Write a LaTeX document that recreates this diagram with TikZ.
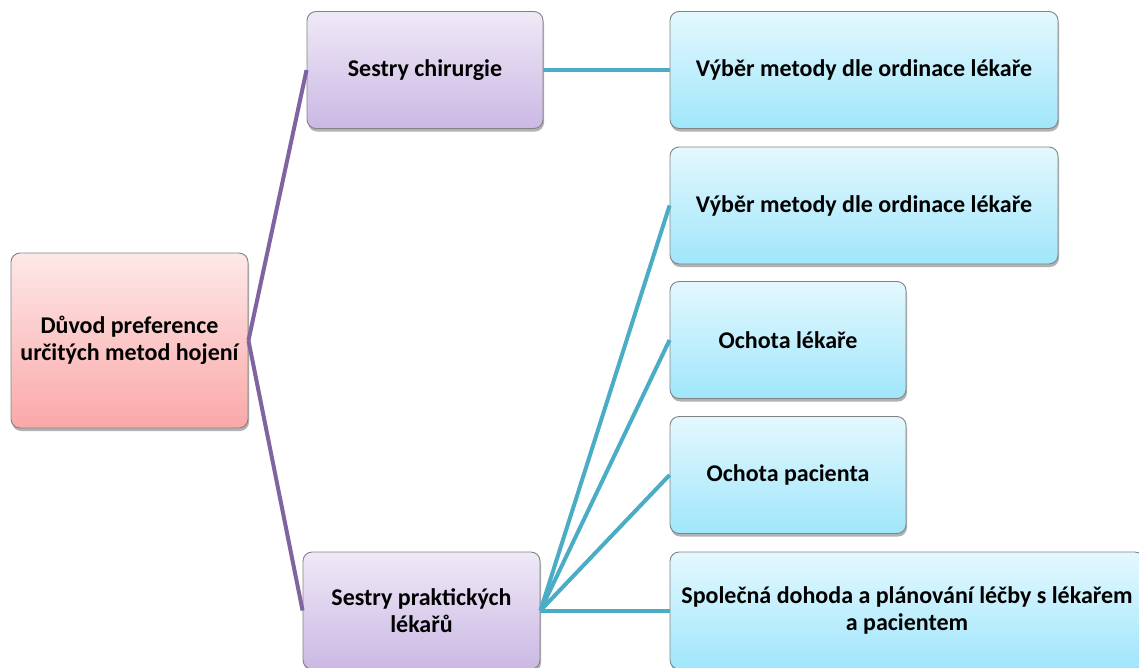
\documentclass[tikz,border=0pt]{standalone}
\usepackage{fontspec}
\setmainfont{Carlito}
\usetikzlibrary{shadows}
\definecolor{boxedge}{RGB}{130,130,130}
\definecolor{pinktop}{RGB}{254,232,232}
\definecolor{pinkbot}{RGB}{250,168,168}
\definecolor{violtop}{RGB}{239,233,247}
\definecolor{violbot}{RGB}{203,184,228}
\definecolor{cyantop}{RGB}{228,248,254}
\definecolor{cyanbot}{RGB}{160,230,251}
\definecolor{violline}{RGB}{128,100,162}
\definecolor{cyanline}{RGB}{75,172,198}
\begin{document}
\begin{tikzpicture}[x=1pt,y=-1pt,
  box/.style={draw=boxedge, line width=0.9pt, rounded corners=9pt,
    align=center, inner sep=0pt,
    font=\bfseries\fontsize{24}{27}\selectfont,
    drop shadow={shadow xshift=1pt, shadow yshift=-3pt, opacity=0.3, fill=black}},
  rootbox/.style={box, top color=pinktop, bottom color=pinkbot},
  midbox/.style={box, top color=violtop, bottom color=violbot},
  leafbox/.style={box, top color=cyantop, bottom color=cyanbot},
  violink/.style={draw=violline, line width=4pt},
  cyanlink/.style={draw=cyanline, line width=4pt}]
\useasboundingbox (0,0) rectangle (1139,667);

% root
\node[rootbox, minimum width=237, minimum height=175] (root) at (129.5,340.5)
  {Důvod preference\\určitých metod hojení};

% second level
\node[midbox, minimum width=236, minimum height=117] (chir) at (425,70) {Sestry chirurgie};
\node[midbox, minimum width=237, minimum height=117] (prak) at (421.5,610.5)
  {Sestry praktických\\lékařů};

% leaves
\node[leafbox, minimum width=388, minimum height=117] (l1) at (864,70)
  {Výběr metody dle ordinace lékaře};
\node[leafbox, minimum width=388, minimum height=117] (l2) at (864,205.5)
  {Výběr metody dle ordinace lékaře};
\node[leafbox, minimum width=236, minimum height=117] (l3) at (788,340) {Ochota lékaře};
\node[leafbox, minimum width=236, minimum height=117] (l4) at (788,475) {Ochota pacienta};
\node[leafbox, minimum width=474, minimum height=117] (l5) at (907,610.5)
  {Společná dohoda a plánování léčby s lékařem\\a pacientem};

% connectors
\draw[violink] (root.east) -- (chir.west);
\draw[violink] (root.east) -- (prak.west);
\draw[cyanlink] (chir.east) -- (l1.west);
\draw[cyanlink] (prak.east) -- (l2.west);
\draw[cyanlink] (prak.east) -- (l3.west);
\draw[cyanlink] (prak.east) -- (l4.west);
\draw[cyanlink] (prak.east) -- (l5.west);
\end{tikzpicture}
\end{document}
